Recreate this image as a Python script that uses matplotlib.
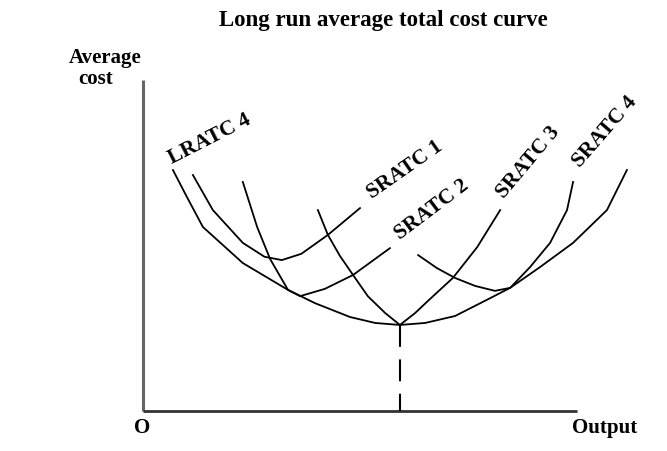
import matplotlib
matplotlib.use('Agg')
import matplotlib.pyplot as plt

# curves (output, cost), axis runs 0..100 each way
lratc_x = [6.9, 10.1, 13.8, 23.0, 33.4, 39.6, 47.7, 53.5, 59.2, 65.0, 71.9, 80.0, 84.6, 91.5, 99.1, 106.9, 111.5]
lratc_y = [72.8, 64.7, 55.6, 44.7, 36.6, 32.6, 28.4, 26.6, 26.0, 26.6, 28.7, 34.1, 37.2, 43.5, 50.8, 60.7, 72.8]

sratc1_x = [11.5, 16.1, 23.0, 28.0, 32.0, 36.5, 42.6, 50.0]
sratc1_y = [71.3, 60.7, 50.8, 46.6, 45.6, 47.5, 53.2, 61.3]

sratc2_x = [23.0, 26.3, 29.3, 33.4, 36.2, 41.9, 48.4, 56.9]
sratc2_y = [69.2, 55.6, 45.9, 36.6, 34.7, 36.9, 41.1, 49.2]

sratc3_x = [40.3, 42.6, 45.4, 48.4, 51.8, 55.8, 59.2, 62.7, 66.1, 71.4, 77.0, 82.3]
sratc3_y = [60.7, 53.2, 46.8, 41.1, 34.7, 29.6, 26.0, 29.6, 33.8, 40.2, 49.5, 60.7]

sratc4_x = [63.4, 67.7, 71.9, 76.5, 81.1, 84.6, 89.2, 93.8, 97.7, 99.1]
sratc4_y = [47.1, 43.2, 40.2, 37.8, 36.3, 37.2, 43.5, 50.8, 60.7, 69.2]

min_output = 59.2
min_cost = 26.0

labels = ['LRATC 4', 'SRATC 1', 'SRATC 2', 'SRATC 3', 'SRATC 4']
label_x = [15.4, 60.4, 66.6, 88.7, 106.5]
label_y = [82.2, 72.8, 60.7, 75.2, 84.3]
label_rot = [27, 35, 37, 50, 49]

plt.rcParams['font.family'] = ['Liberation Serif', 'DejaVu Serif']

fig = plt.figure(figsize=(6.67, 4.51), dpi=100)
ax = fig.add_axes([0, 0, 1, 1])
ax.set_xlim(-32.95, 120.74)
ax.set_ylim(-12.08, 124.17)
ax.axis('off')

ax.plot([0, 0], [0, 100], color='#666666', lw=2.2, solid_capstyle='butt')
ax.plot([0, 100], [0, 0], color='#333333', lw=2.0, solid_capstyle='butt')

for xs, ys in [(lratc_x, lratc_y), (sratc1_x, sratc1_y), (sratc2_x, sratc2_y),
               (sratc3_x, sratc3_y), (sratc4_x, sratc4_y)]:
    ax.plot(xs, ys, color='black', lw=1.3, solid_joinstyle='round')

ax.plot([min_output, min_output], [min_cost, 0], color='black', lw=1.5,
        linestyle=(0, (10.5, 6)))

for t, x, y, r in zip(labels, label_x, label_y, label_rot):
    ax.text(x, y, t, rotation=r, rotation_mode='anchor', ha='center', va='center',
            fontsize=15.5, fontweight='bold')

ax.text(55.3, 118.1, 'Long run average total cost curve', ha='center', va='center',
        fontsize=16.5, fontweight='bold')
ax.text(-0.3, 106.6, 'Average', ha='right', va='center', fontsize=15, fontweight='bold')
ax.text(-11.0, 100.3, 'cost', ha='center', va='center', fontsize=15, fontweight='bold')
ax.text(-0.2, -5.1, 'O', ha='center', va='center', fontsize=15, fontweight='bold')
ax.text(98.8, -5.1, 'Output', ha='left', va='center', fontsize=15, fontweight='bold')

fig.savefig('out.png', dpi=100)
